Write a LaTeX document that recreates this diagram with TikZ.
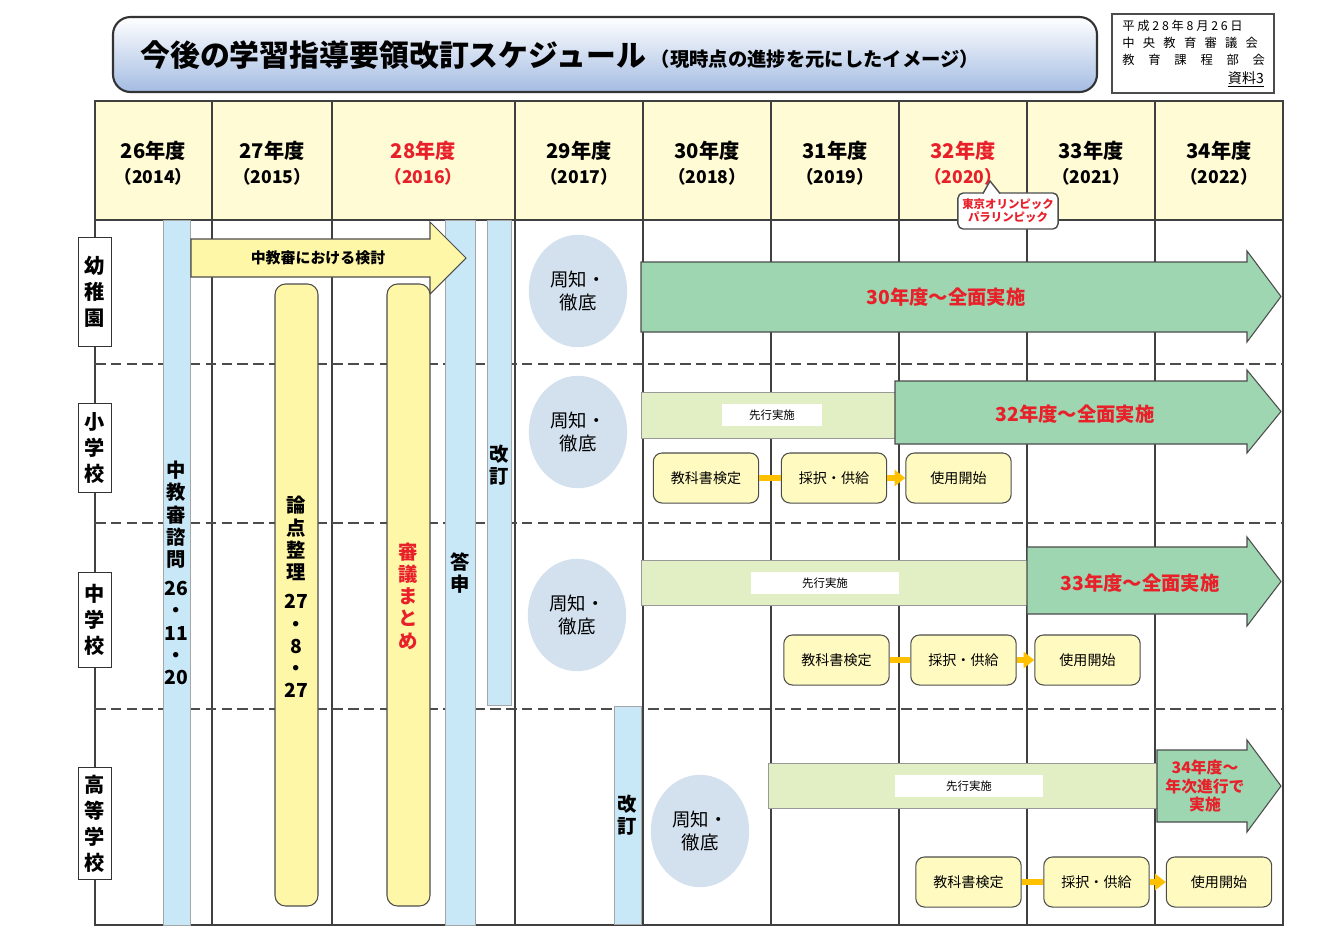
\documentclass[tikz,border=0pt]{standalone}
\usepackage{fontspec}
\setmainfont{Noto Sans CJK JP}
\usetikzlibrary{positioning, calc, arrows.meta, shapes.geometric}
\definecolor{hdrfill}{HTML}{FFFBD5}
\definecolor{barblue}{HTML}{C8E8F8}
\definecolor{barylw}{HTML}{FFF7A8}
\definecolor{ovlblue}{HTML}{D3E1EF}
\definecolor{arrgreen}{HTML}{9DD6B0}
\definecolor{pregreen}{HTML}{E2EFC5}
\definecolor{boxylw}{HTML}{FFFBC0}
\definecolor{linkorg}{HTML}{FFC000}
\definecolor{txtred}{HTML}{E8202A}
\definecolor{titleblue}{HTML}{A3BCE2}
\newcommand{\fs}[1]{\fontsize{#1pt}{\dimexpr #1pt*115/100\relax}\selectfont}

\begin{document}
\begin{tikzpicture}[x=0.02cm, y=-0.02cm,
   grid/.style = {draw=black!75, line width=0.7pt},
   rowline/.style = {draw=black!70, dash pattern=on 6pt off 3pt, line width=0.6pt},
   yearlbl/.style = {align=center, font=\bfseries\fs{11.5}, inner sep=0pt},
   rowlbl/.style = {draw=black!80, fill=white, align=center, font=\bfseries\fontsize{11.5pt}{14.8pt}\selectfont, inner sep=0pt, minimum width=19pt, text width=13pt},
   vbar/.style = {draw=black!35, fill=barblue},
   ybar/.style = {draw=black!70, fill=barylw, rounded corners=6pt, line width=0.6pt},
   vtext/.style = {align=center, font=\bfseries\fs{11}, inner sep=0pt},
   ovl/.style = {fill=ovlblue, draw=none, align=center, font=\fontsize{10.5pt}{13.5pt}\selectfont, minimum width=56pt, minimum height=64pt, inner sep=0pt, ellipse},
   garrow/.style = {draw=black!70, fill=arrgreen, line width=0.6pt},
   prebar/.style = {draw=black!40, fill=pregreen},
   prelbl/.style = {fill=white, font=\fs{6.5}, minimum width=57pt, minimum height=12.5pt, inner sep=0pt},
   stagebox/.style = {draw=black!70, fill=boxylw, rounded corners=5pt, minimum width=60pt, minimum height=28.5pt, inner sep=0pt, font=\fs{8}, line width=0.6pt},
   link/.style = {draw=linkorg, line width=3pt},
   linkarr/.style = {draw=linkorg, line width=3pt, -{Triangle[length=6pt,width=9pt]}},
   bigtxt/.style = {text=txtred, font=\bfseries\fs{11}}
   ]
  \useasboundingbox (0,0) rectangle (1336,944);

  % title
  \draw[line width=1.2pt, black!80, rounded corners=10pt, top color=white, bottom color=titleblue]
    (113,17) rectangle (1097,92);
  \node[font=\bfseries\fs{17}, anchor=west, inner sep=0pt] (title) at (140,55)
    {今後の学習指導要領改訂スケジュール\,{\fs{11}（現時点の進捗を元にしたイメージ）}};
  \draw[black!70, line width=0.8pt] (1112,14) rectangle (1274,93);
  \node[font=\fontsize{7pt}{9.5pt}\selectfont, align=left, anchor=north west, inner sep=0pt] (docinfo) at (1122,20)
    {平\ 成\ 2\ 8\ 年\ 8\ 月\ 2\ 6\ 日\\中\ \ \ 央\ \ \ 教\ \ \ 育\ \ \ 審\ \ \ 議\ \ \ 会\\教\ \ \ \ \ 育\ \ \ \ \ 課\ \ \ \ \ 程\ \ \ \ \ 部\ \ \ \ \ 会};
  \node[font=\fs{8}, anchor=south east, inner sep=1pt] (docno) at (1266,90) {\underline{資料3}};

  % header row
  \fill[hdrfill] (95,101) rectangle (1283,220);
  \draw[grid] (95,101) rectangle (1283,925);
  \draw[grid] (95,220) -- (1283,220);
  \foreach \x in {212,332,515,643,771,899,1027,1155}
    \draw[grid] (\x,101) -- (\x,925);
  \foreach \cx/\yr/\ad/\col in {153.5/26/2014/black, 272/27/2015/black, 423.5/28/2016/txtred, 579/29/2017/black,
      707/30/2018/black, 835/31/2019/black, 963/32/2020/txtred, 1091/33/2021/black, 1219/34/2022/black}
    \node[yearlbl, text=\col] (y\yr) at (\cx,163) {\yr 年度\\[1pt]{\fs{10}（\ad）}};

  % callout
  \node[draw=black!70, fill=white, rounded corners=3pt, line width=0.8pt, align=center, text=txtred,
        font=\bfseries\fs{6.5}, minimum width=57pt, minimum height=20.5pt, inner sep=0pt] (olympic) at (1008,211)
    {東京オリンピック\\パラリンピック};
  \fill[white] (983,194) -- (990,181) -- (1000,194) -- cycle;
  \draw[black!70, line width=0.8pt] (983,193.5) -- (990,181) -- (1000,193.5);

  % row separators
  \foreach \y in {364,523,709}
    \draw[rowline] (95,\y) -- (1283,\y);

  % row labels
  \node[rowlbl, minimum height=62pt, anchor=north west] (kinder) at (78,237) {幼\\稚\\園};
  \node[rowlbl, minimum height=50.5pt, anchor=north west] (elem) at (78,403) {小\\学\\校};
  \node[rowlbl, minimum height=54pt, anchor=north west] (junior) at (78,572) {中\\学\\校};
  \node[rowlbl, minimum height=64pt, anchor=north west] (high) at (78,767) {高\\等\\学\\校};

  % council bars
  \draw[vbar] (163,220) rectangle (190,925);
  \node[vtext] (inquiry) at (176.5,573) {中\\教\\審\\諮\\問\\[4pt]26\\・\\11\\・\\20};
  \draw[vbar] (445,220) rectangle (475,925);
  \node[vtext] (report) at (460,573) {答\\申};
  \draw[vbar] (487,220) rectangle (511,705);
  \node[vtext] (revA) at (499,465) {改\\訂};
  \draw[vbar] (614,706) rectangle (641,924);
  \node[vtext] (revB) at (627.5,815) {改\\訂};

  % deliberation arrow
  \draw[draw=black!70, fill=barylw, line width=0.6pt]
    (191,239) -- (430,239) -- (430,222) -- (466,258) -- (430,294) -- (430,277) -- (191,277) -- cycle;
  \node[font=\bfseries\fs{8.5}] (review) at (318,258) {中教審における検討};

  \draw[ybar] (275,284) rectangle (318,906);
  \node[vtext] (issues) at (296.5,597) {論\\点\\整\\理\\[4pt]27\\・\\8\\・\\27};
  \draw[ybar] (387,284) rectangle (430,906);
  \node[vtext, text=txtred] (summary) at (408.5,596) {審\\議\\ま\\と\\め};

  % notice ellipses
  \node[ovl] (noticeK) at (578,291) {周知・\\徹底};
  \node[ovl] (noticeE) at (578,432) {周知・\\徹底};
  \node[ovl] (noticeJ) at (577,615) {周知・\\徹底};
  \node[ovl] (noticeH) at (700,831) {周知・\\徹底};

  % kindergarten
  \draw[garrow] (641,262) -- (1247,262) -- (1247,251) -- (1281,296.5) -- (1247,342) -- (1247,332) -- (641,332) -- cycle;
  \node[bigtxt] (fullK) at (946,297) {30年度～全面実施};

  % elementary
  \draw[prebar] (641,392) rectangle (895,438);
  \node[prelbl] (preE) at (772,415) {先行実施};
  \draw[garrow] (895,381) -- (1247,381) -- (1247,370) -- (1281,411.5) -- (1247,453) -- (1247,444) -- (895,444) -- cycle;
  \node[bigtxt] (fullE) at (1075,414) {32年度～全面実施};
  \node[stagebox] (checkE) at (706,478) {教科書検定};
  \node[stagebox] (adoptE) at (834,478) {採択・供給};
  \node[stagebox] (useE) at (958.5,478) {使用開始};
  \draw[link] (checkE) -- (adoptE);
  \draw[linkarr] (adoptE) -- (useE);

  % junior high
  \draw[prebar] (641,560) rectangle (1027,605);
  \node[prelbl, minimum width=84pt] (preJ) at (825,583) {先行実施};
  \draw[garrow] (1027,547) -- (1247,547) -- (1247,537) -- (1281,581.5) -- (1247,626) -- (1247,614) -- (1027,614) -- cycle;
  \node[bigtxt] (fullJ) at (1140,583) {33年度～全面実施};
  \node[stagebox] (checkJ) at (836.5,660) {教科書検定};
  \node[stagebox] (adoptJ) at (963.5,660) {採択・供給};
  \node[stagebox] (useJ) at (1087.5,660) {使用開始};
  \draw[link] (checkJ) -- (adoptJ);
  \draw[linkarr] (adoptJ) -- (useJ);

  % high school
  \draw[prebar] (768,763) rectangle (1157,808);
  \node[prelbl, minimum width=84pt] (preH) at (969,786) {先行実施};
  \draw[garrow] (1157,750) -- (1247,750) -- (1247,740) -- (1281,786) -- (1247,832) -- (1247,822) -- (1157,822) -- cycle;
  \node[bigtxt, font=\bfseries\fs{9}, align=center] (fullH) at (1205,786) {34年度～\\年次進行で\\実施};
  \node[stagebox] (checkH) at (968.5,882) {教科書検定};
  \node[stagebox] (adoptH) at (1096.5,882) {採択・供給};
  \node[stagebox] (useH) at (1219,882) {使用開始};
  \draw[link] (checkH) -- (adoptH);
  \draw[linkarr] (adoptH) -- (useH);
\end{tikzpicture}
\end{document}
